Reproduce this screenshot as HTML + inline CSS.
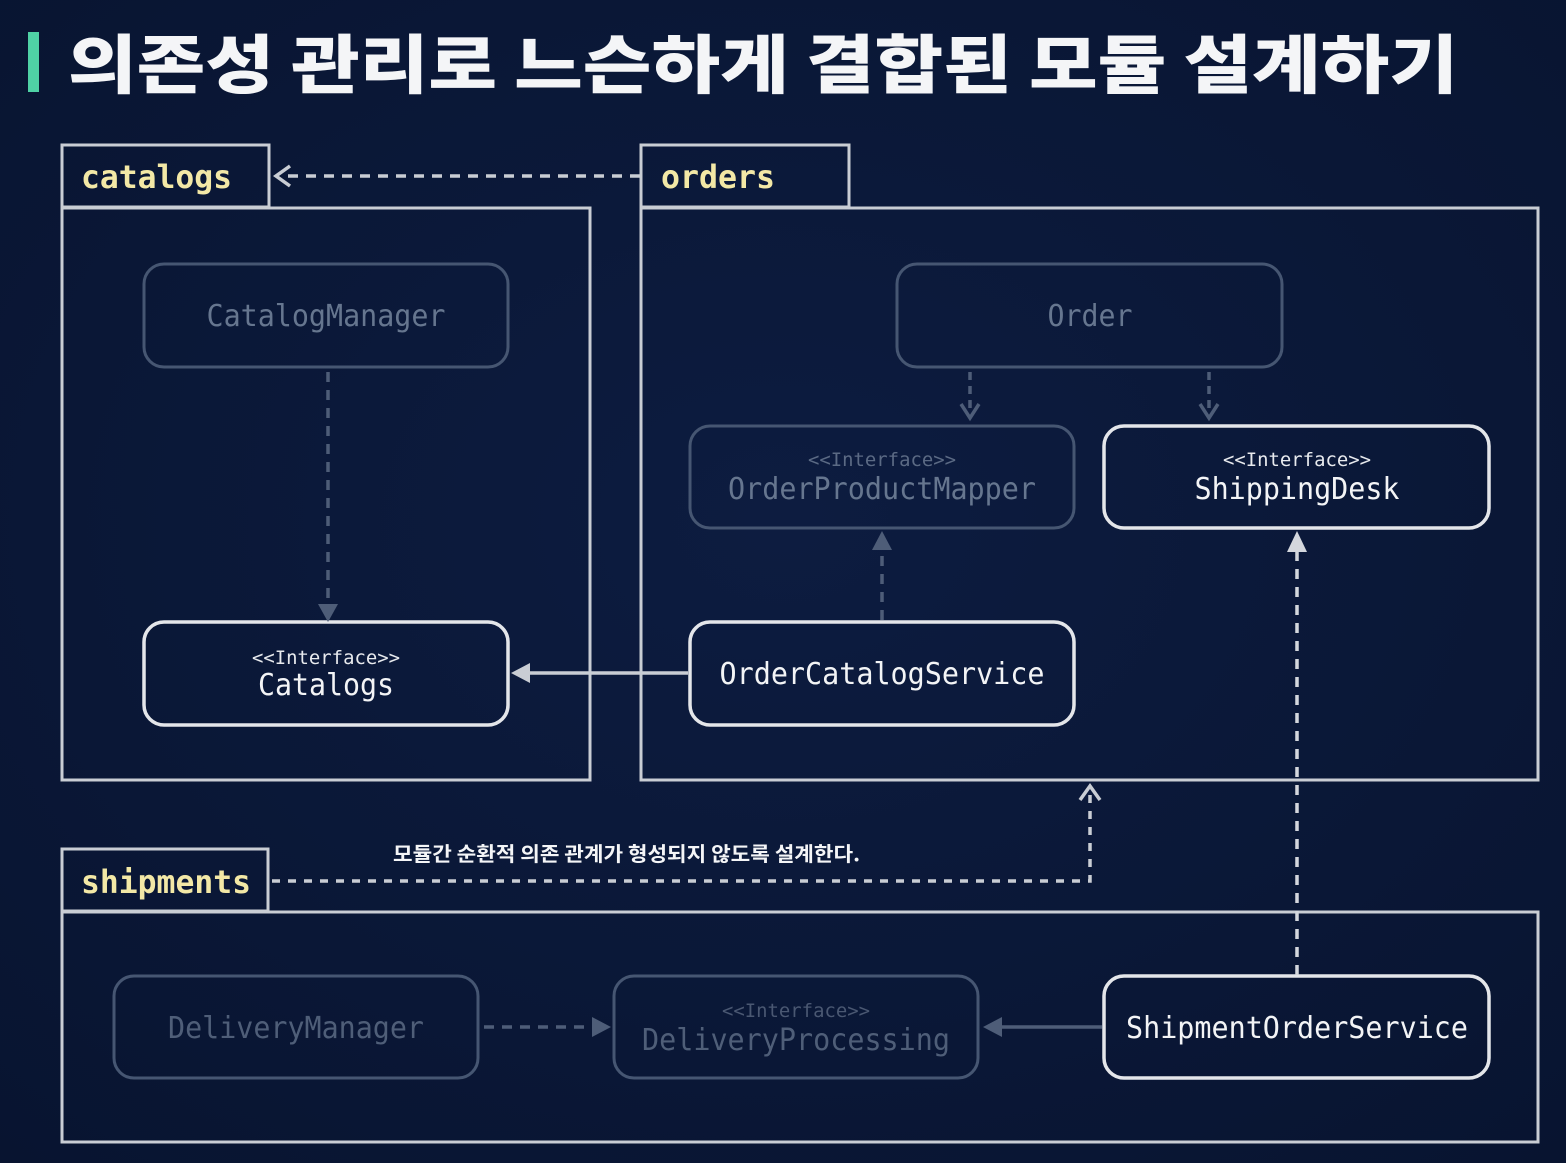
<!DOCTYPE html>
<html><head><meta charset="utf-8"><style>
html,body{margin:0;padding:0;background:#0b1a3a;}
svg{display:block;}
.m{font-family:"DejaVu Sans Mono","Liberation Mono",monospace;}
</style></head><body>
<svg width="1566" height="1163" viewBox="0 0 1566 1163" xmlns="http://www.w3.org/2000/svg">
<defs>
<radialGradient id="bg" cx="50%" cy="45%" r="75%"><stop offset="0" stop-color="#0d1c40"/><stop offset="1" stop-color="#081430"/></radialGradient>
</defs>
<rect width="1566" height="1163" fill="url(#bg)"/>
<rect x="28" y="32" width="11" height="60" fill="#4fd1a5"/>
<text x="68" y="88" font-family="'Noto Sans CJK KR','NanumGothic',sans-serif" font-weight="900" font-size="64" fill="#f4f5f7" textLength="1390" lengthAdjust="spacingAndGlyphs">의존성 관리로 느슨하게 결합된 모듈 설계하기</text>

<g fill="none" stroke="#c9cdd4" stroke-width="3">
<rect x="62" y="145" width="207" height="62"/>
<rect x="62" y="208" width="528" height="572"/>
<rect x="641" y="145" width="208" height="62"/>
<rect x="641" y="208" width="897" height="572"/>
<rect x="62" y="849" width="206" height="62"/>
<rect x="62" y="912" width="1476" height="230"/>
</g>
<g class="m" font-weight="bold" font-size="32" fill="#f3e8a6">
<text x="81" y="188" textLength="151" lengthAdjust="spacingAndGlyphs">catalogs</text>
<text x="661" y="188" textLength="114" lengthAdjust="spacingAndGlyphs">orders</text>
<text x="81" y="893" textLength="170" lengthAdjust="spacingAndGlyphs">shipments</text>
</g>

<g fill="none" stroke="#465672" stroke-width="3">
<rect x="144" y="264" width="364" height="103" rx="20"/>
<rect x="897" y="264" width="385" height="103" rx="20"/>
<rect x="690" y="426" width="384" height="102" rx="20"/>
<rect x="114" y="976" width="364" height="102" rx="20"/>
<rect x="614" y="976" width="364" height="102" rx="20"/>
</g>
<g fill="none" stroke="#e4e6ea" stroke-width="3.5">
<rect x="144" y="622" width="364" height="103" rx="20"/>
<rect x="1104" y="426" width="385" height="102" rx="20"/>
<rect x="690" y="622" width="384" height="103" rx="20"/>
<rect x="1104" y="976" width="385" height="102" rx="20"/>
</g>
<g class="m" text-anchor="middle" font-size="30">
<text x="326" y="326" fill="#66768f" textLength="239" lengthAdjust="spacingAndGlyphs">CatalogManager</text>
<text x="1090" y="326" fill="#66768f" textLength="85" lengthAdjust="spacingAndGlyphs">Order</text>
<text x="882" y="466" font-size="19" fill="#5b6a84" textLength="148" lengthAdjust="spacingAndGlyphs">&lt;&lt;Interface&gt;&gt;</text>
<text x="882" y="499" fill="#66768f" textLength="308" lengthAdjust="spacingAndGlyphs">OrderProductMapper</text>
<text x="1297" y="466" font-size="19" fill="#e8eaee" textLength="148" lengthAdjust="spacingAndGlyphs">&lt;&lt;Interface&gt;&gt;</text>
<text x="1297" y="499" fill="#f3f4f6" textLength="205" lengthAdjust="spacingAndGlyphs">ShippingDesk</text>
<text x="326" y="664" font-size="19" fill="#e8eaee" textLength="148" lengthAdjust="spacingAndGlyphs">&lt;&lt;Interface&gt;&gt;</text>
<text x="326" y="695" fill="#f3f4f6" textLength="136" lengthAdjust="spacingAndGlyphs">Catalogs</text>
<text x="882" y="684" fill="#f3f4f6" textLength="325" lengthAdjust="spacingAndGlyphs">OrderCatalogService</text>
<text x="296" y="1038" fill="#4f5e78" textLength="256" lengthAdjust="spacingAndGlyphs">DeliveryManager</text>
<text x="796" y="1017" font-size="19" fill="#4a5872" textLength="148" lengthAdjust="spacingAndGlyphs">&lt;&lt;Interface&gt;&gt;</text>
<text x="796" y="1050" fill="#4f5e78" textLength="308" lengthAdjust="spacingAndGlyphs">DeliveryProcessing</text>
<text x="1297" y="1038" fill="#f3f4f6" textLength="342" lengthAdjust="spacingAndGlyphs">ShipmentOrderService</text>
</g>

<g fill="none" stroke-width="3.5">
<path d="M640 176 H280" stroke="#c9cdd4" stroke-dasharray="10 8"/>
<path d="M290 166 L276 176 L290 186" stroke="#c9cdd4"/>
<path d="M328 372 V606" stroke="#4e5d78" stroke-dasharray="10 8"/>
<path d="M970 372 V412" stroke="#4e5d78" stroke-dasharray="8 6"/>
<path d="M961 404 L970 418 L979 404" stroke="#4e5d78"/>
<path d="M1209 372 V412" stroke="#4e5d78" stroke-dasharray="8 6"/>
<path d="M1200 404 L1209 418 L1218 404" stroke="#4e5d78"/>
<path d="M882 620 V548" stroke="#4e5d78" stroke-dasharray="10 8"/>
<path d="M688 673 H528" stroke="#c9cdd4"/>
<path d="M1297 975 V550" stroke="#d4d7dd" stroke-dasharray="10 8"/>
<path d="M272 881 H1090 V792" stroke="#c9cdd4" stroke-dasharray="8 8"/>
<path d="M1080 800 L1090 786 L1100 800" stroke="#c9cdd4"/>
<path d="M484 1027 H594" stroke="#4e5d78" stroke-dasharray="10 8"/>
<path d="M1102 1027 H1000" stroke="#4e5d78"/>
</g>
<g stroke="none">
<path d="M318 604 L338 604 L328 622 Z" fill="#4e5d78"/>
<path d="M872 550 L892 550 L882 531 Z" fill="#4e5d78"/>
<path d="M530 663 L530 683 L511 673 Z" fill="#c9cdd4"/>
<path d="M1287 552 L1307 552 L1297 531 Z" fill="#d4d7dd"/>
<path d="M592 1017 L592 1037 L611 1027 Z" fill="#4e5d78"/>
<path d="M1002 1017 L1002 1037 L983 1027 Z" fill="#4e5d78"/>
</g>
<text x="393" y="861" font-family="'Noto Sans CJK KR','NanumGothic',sans-serif" font-weight="bold" font-size="20" fill="#f4f5f7" textLength="467" lengthAdjust="spacingAndGlyphs">모듈간 순환적 의존 관계가 형성되지 않도록 설계한다.</text>
</svg>
</body></html>
